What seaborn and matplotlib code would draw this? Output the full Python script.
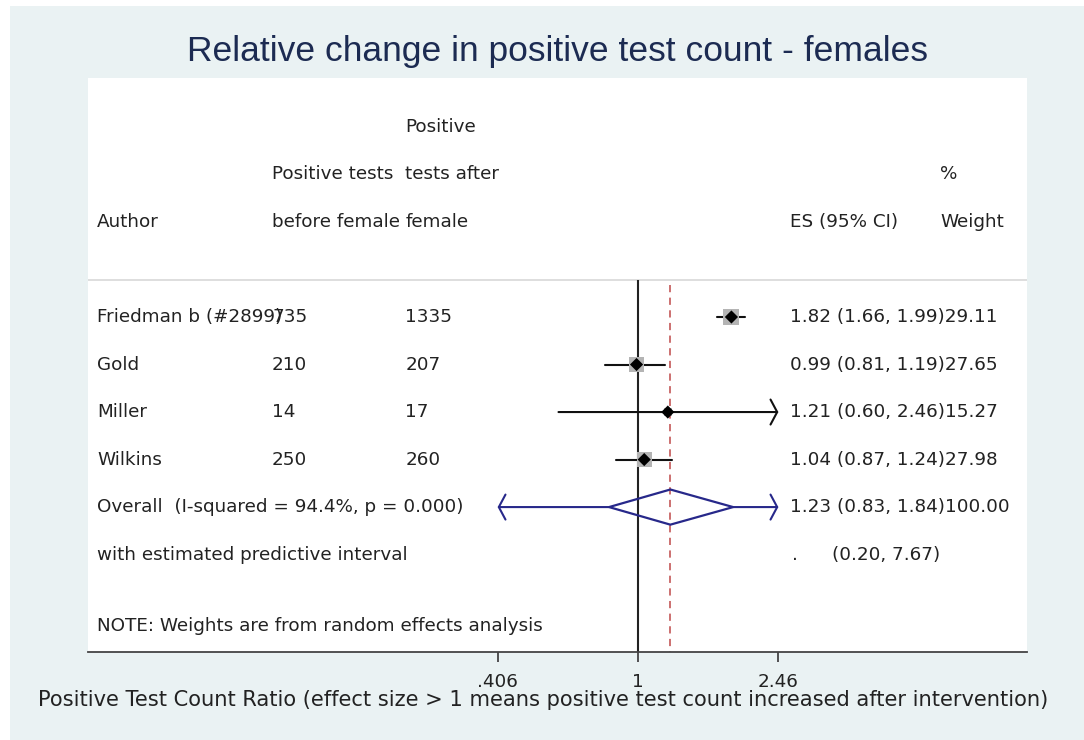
import numpy as np
import pandas as pd
import matplotlib
matplotlib.use("Agg")
import matplotlib.pyplot as plt
from matplotlib.patches import Rectangle, Polygon
import seaborn as sns

# ---------------- data ----------------
authors = ["Friedman b (#2899)", "Gold", "Miller", "Wilkins"]
before = [735, 210, 14, 250]
after = [1335, 207, 17, 260]
es = [1.82, 0.99, 1.21, 1.04]
lo = [1.66, 0.81, 0.60, 0.87]
hi = [1.99, 1.19, 2.46, 1.24]
weights = [29.11, 27.65, 15.27, 27.98]
es_labels = ["1.82 (1.66, 1.99)", "0.99 (0.81, 1.19)", "1.21 (0.60, 2.46)", "1.04 (0.87, 1.24)"]
weight_labels = ["29.11", "27.65", "15.27", "27.98"]

overall_es = 1.23
overall_lo = 0.83
overall_hi = 1.84
pred_lo = 0.20
pred_hi = 7.67
overall_label = "Overall  (I-squared = 94.4%, p = 0.000)"
overall_es_label = "1.23 (0.83, 1.84)"
overall_weight_label = "100.00"
pred_label = "with estimated predictive interval"
pred_es_label = "(0.20, 7.67)"
note = "NOTE: Weights are from random effects analysis"

tick_vals = [0.406, 1, 2.46]
tick_labels = [".406", "1", "2.46"]

title = "Relative change in positive test count - females"
xlabel = "Positive Test Count Ratio (effect size > 1 means positive test count increased after intervention)"

# ---------------- style ----------------
sns.set_theme(style="white")
plt.rcParams["font.family"] = ["DejaVu Sans"]

BG = "#eaf2f3"
TXT = "#222222"
NAVY = "#27288a"
RED = "#c86464"

fig = plt.figure(figsize=(10.84, 7.40), dpi=100, facecolor="white")
fig.patches.append(Rectangle((10 / 1084, 0), 1 - 10 / 1084, 1 - 6 / 740,
                             transform=fig.transFigure, facecolor=BG,
                             edgecolor="none", zorder=-10))

ax = fig.add_axes([88 / 1084, 1 - 652 / 740, (1027 - 88) / 1084, (652 - 78) / 740])
ax.set_facecolor("white")
ax.set_xscale("log")
ax.set_xlim(0.0293, 12.13)
ax.set_ylim(7.05, -5.03)

rows = np.arange(len(authors))
clip_lo, clip_hi = tick_vals[0], tick_vals[-1]
arrow_style = "->,head_length=0.4,head_width=0.75"

# reference lines
ax.hlines(-0.78, 0.0293, 12.13, color="#d8d8d8", lw=1.2, zorder=1)
ax.vlines(1, -0.78, 7.05, color="#222222", lw=1.5, zorder=2)
ax.vlines(overall_es, -0.67, 7.05, color=RED, lw=1.3, linestyles=(0, (4, 3)), zorder=2)

# CIs
for r, l, h, e in zip(rows, lo, hi, es):
    l_c, h_c = max(l, clip_lo), min(h, clip_hi)
    if h >= clip_hi:
        ax.annotate("", xy=(h_c, r), xytext=(l_c, r),
                    arrowprops=dict(arrowstyle=arrow_style,
                                    color="#111111", lw=1.5, shrinkA=0, shrinkB=0),
                    zorder=3)
    else:
        ax.plot([l_c, h_c], [r, r], color="#111111", lw=1.5, zorder=3)

# weight boxes and points
df = pd.DataFrame({"es": es, "row": rows, "w": weights})
box_sizes = (np.array(weights) / max(weights)) ** 2 * 130
sns.scatterplot(data=df, x="es", y="row", marker="s", s=box_sizes, color="#b4b4b4",
                edgecolor="none", ax=ax, zorder=4, legend=False)
sns.scatterplot(data=df, x="es", y="row", marker="D", s=45, color="black",
                edgecolor="none", ax=ax, zorder=5, legend=False)

# overall diamond & predictive interval
orow = len(authors)
dh = 0.37
ax.add_patch(Polygon([(overall_lo, orow), (overall_es, orow - dh), (overall_hi, orow),
                      (overall_es, orow + dh)], closed=True, facecolor="none",
                     edgecolor=NAVY, lw=1.6, zorder=4))
for end, start in [(max(pred_lo, clip_lo), overall_lo), (min(pred_hi, clip_hi), overall_hi)]:
    ax.annotate("", xy=(end, orow), xytext=(start, orow),
                arrowprops=dict(arrowstyle=arrow_style,
                                color=NAVY, lw=1.5, shrinkA=0, shrinkB=0), zorder=3)

# text columns
tr = ax.get_yaxis_transform()
fs = 13.2
col_author, col_before, col_after, col_es, col_w = 0.0096, 0.196, 0.338, 0.7476, 0.9073
hdr = dict(transform=tr, fontsize=fs, color=TXT, va="center", ha="left")
ax.text(col_after, -4, "Positive", **hdr)
ax.text(col_before, -3, "Positive tests", **hdr)
ax.text(col_after, -3, "tests after", **hdr)
ax.text(col_w, -3, "%", **hdr)
ax.text(col_author, -2, "Author", **hdr)
ax.text(col_before, -2, "before female", **hdr)
ax.text(col_after, -2, "female", **hdr)
ax.text(col_es, -2, "ES (95% CI)", **hdr)
ax.text(col_w, -2, "Weight", **hdr)

for r, a, b, c, el, wl in zip(rows, authors, before, after, es_labels, weight_labels):
    ax.text(col_author, r, a, **hdr)
    ax.text(col_before, r, str(b), **hdr)
    ax.text(col_after, r, str(c), **hdr)
    ax.text(col_es, r, el + wl, **hdr)

ax.text(col_author, orow, overall_label, **hdr)
ax.text(col_es, orow, overall_es_label + overall_weight_label, **hdr)
ax.text(col_author, orow + 1, pred_label, **hdr)
ax.text(col_es + 0.002, orow + 1, ".", **hdr)
ax.text(0.7925, orow + 1, pred_es_label, **hdr)
ax.text(col_author, 6.5, note, **hdr)

# axes
for s in ["top", "left", "right"]:
    ax.spines[s].set_visible(False)
ax.spines["bottom"].set_color("#444444")
ax.spines["bottom"].set_linewidth(1.3)
ax.set_xticks(tick_vals)
ax.set_xticklabels(tick_labels)
ax.xaxis.set_minor_locator(matplotlib.ticker.NullLocator())
ax.tick_params(axis="x", bottom=True, length=7, width=1.3, color="#444444",
               labelsize=fs, labelcolor=TXT, pad=8)
ax.set_yticks([])
ax.set_xlabel("")
ax.set_ylabel("")

fig.text(557.5 / 1084, 1 - 52 / 740, title, ha="center", va="center",
         fontsize=25.5, color="#1c2b52", family=["Liberation Sans", "DejaVu Sans"])
fig.text(543 / 1084, 1 - 700 / 740, xlabel, ha="center", va="center",
         fontsize=15.1, color=TXT)

fig.savefig("out.png", dpi=100, facecolor=fig.get_facecolor())
